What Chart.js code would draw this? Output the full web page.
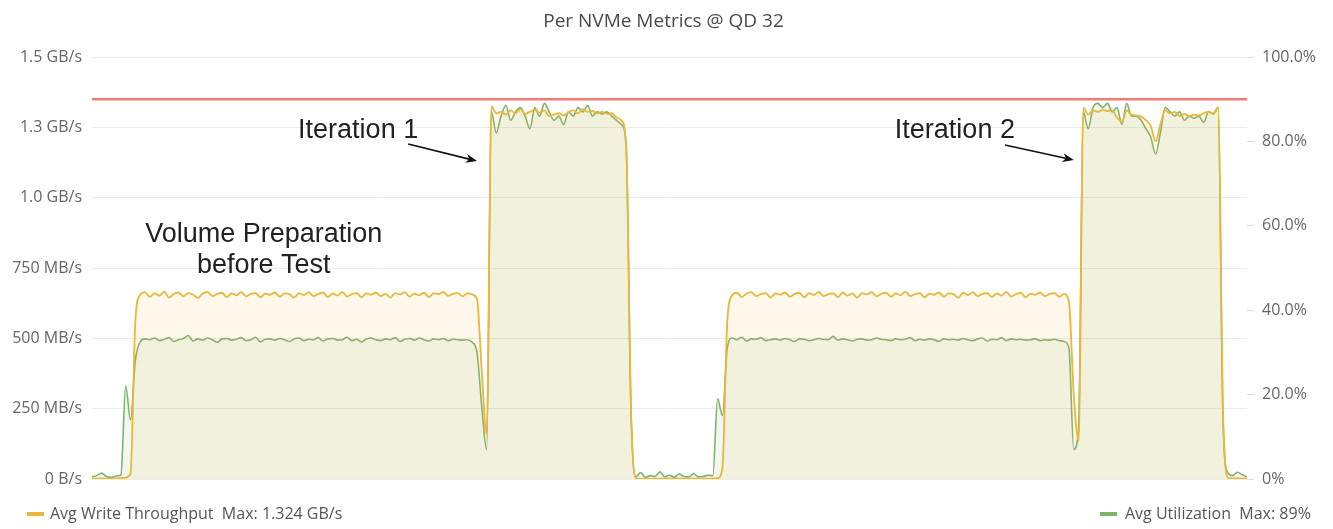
<!DOCTYPE html>
<html>
<head>
<meta charset="utf-8">
<title>Per NVMe Metrics @ QD 32</title>
<script src="https://cdn.jsdelivr.net/npm/chart.js@4.4.1/dist/chart.umd.min.js"></script>
<style>
  html, body { margin: 0; padding: 0; background: #fff; }
  #wrap { width: 1333px; height: 529px; }
</style>
</head>
<body>
<div id="wrap"><canvas id="nvmeChart" width="1333" height="529"></canvas></div>
<script>
// avg write throughput per sample, MB/s
const writeThroughput = [
  2, 1, 2, 1, 1, 2, 3, 5, 20, 560,
  // volume preparation #1
  655, 664, 648, 660, 652, 666, 645, 658, 663, 649,
  661, 655, 644, 659, 665, 650, 657, 662, 647, 660,
  653, 664, 649, 658, 661, 646, 659, 655, 663, 648,
  660, 657, 645, 661, 654, 664, 650, 658, 662, 647,
  659, 652, 665, 649, 657, 661, 646, 660, 655, 663,
  650, 658, 645, 661, 656, 664, 648, 659, 653, 662,
  647, 660, 657, 665, 651, 658, 661, 649, 660, 656,
  640, 380, 160, 1324,
  // iteration 1
  1300, 1305, 1295, 1310, 1300, 1315, 1298, 1305, 1312, 1302,
  1310, 1290, 1295, 1300, 1292, 1305, 1310, 1300, 1315, 1305,
  1308, 1300, 1305, 1298, 1300, 1285, 1275,
  1180, 250,
  // idle
  2, 1, 2, 1, 2, 1, 1, 2, 1, 2, 1, 1, 2, 1, 2, 1, 2,
  3, 40, 560,
  // volume preparation #2
  652, 662, 647, 659, 664, 650, 657, 661, 645, 660,
  655, 663, 648, 658, 662, 646, 661, 654, 665, 650,
  657, 660, 647, 663, 652, 659, 645, 661, 656, 664,
  649, 658, 662, 648, 660, 653, 666, 650, 657, 661,
  646, 659, 655, 663, 648, 660, 657, 645, 662, 654,
  664, 650, 658, 661, 647, 660, 652, 665, 649, 657,
  662, 646, 659, 655, 663, 650, 658, 661, 648, 658,
  630, 300, 135,
  // iteration 2
  1320, 1295, 1310, 1305, 1312, 1308, 1310, 1285, 1270, 1310,
  1295, 1292, 1288, 1275, 1255, 1200, 1260, 1310, 1300, 1305,
  1290, 1298, 1290, 1295, 1292, 1300, 1305, 1300, 1322,
  250, 5, 2, 3, 1, 2
];

// avg device utilization per sample, %
const utilization = [
  0.5, 0.8, 1.4, 0.6, 0.4, 0.7, 1.0, 22, 14, 28,
  32.5, 33.2, 33.0, 33.4, 32.8, 33.1, 33.5, 32.6, 33.0, 33.3,
  34.0, 32.7, 33.2, 32.9, 33.4, 33.0, 32.4, 33.2, 33.3, 32.9,
  33.1, 33.5, 32.8, 33.0, 33.6, 32.5, 33.1, 33.2, 32.9, 33.3,
  33.0, 32.6, 33.2, 33.4, 32.8, 33.1, 33.0, 33.5, 32.7, 33.2,
  33.3, 32.9, 33.0, 33.6, 32.8, 33.1, 32.5, 33.2, 33.4, 33.0,
  32.8, 33.2, 33.0, 33.5, 32.6, 33.1, 33.3, 32.9, 33.4, 33.0,
  32.7, 33.2, 33.0, 33.3, 32.8, 33.1, 33.0, 32.9, 33.0, 32.4,
  30, 17, 7, 87,
  82, 86, 88.5, 85, 87, 88, 86, 83, 88, 86,
  89, 87, 85, 86, 84, 87, 86, 88, 87, 88.5,
  86, 87, 86.5, 87, 86, 85, 84,
  79, 16,
  0.5, 1.5, 0.4, 0.8, 0.6, 1.7, 0.5, 0.9, 0.4, 1.2, 0.6, 0.5, 1.3, 0.5, 0.6, 0.9, 0.8,
  19, 15, 31,
  33.4, 33.0, 33.6, 32.7, 33.2, 33.1, 33.5, 32.8, 33.0, 33.2,
  32.9, 33.3, 33.0, 32.6, 33.2, 33.1, 32.8, 33.0, 33.3, 33.1,
  33.0, 33.8, 32.9, 33.2, 33.0, 32.7, 33.1, 33.2, 32.9, 33.0,
  33.4, 33.1, 33.0, 32.8, 33.2, 33.0, 33.1, 33.5, 32.8, 33.1,
  32.9, 33.2, 33.0, 32.6, 33.2, 33.0, 33.1, 32.9, 33.3, 33.0,
  32.8, 33.2, 33.4, 32.7, 33.1, 33.0, 33.5, 32.8, 33.2, 33.0,
  33.1, 32.9, 33.0, 33.2, 32.8, 33.0, 32.9, 33.1, 32.8, 32.6,
  31, 7, 12,
  87, 83, 88, 89, 88, 89, 87, 88, 84, 89,
  86, 86, 85, 83, 81, 77, 82, 88, 87, 86,
  87, 85, 86, 85.5, 86, 84.5, 87, 86.5, 88,
  15, 1.5, 0.8, 1.6, 1.0, 0.5
];

const sampleLabels = writeThroughput.map((_, i) => i);
const utilThreshold = 90;
const throughputStep = 250;
const throughputMax = 1500;
const utilStep = 20;
const utilMax = 100;

// notes placed in data space: [sample, MB/s]
const notes = [
  { text: 'Iteration 1', at: [55.3, 1212] },
  { text: 'Iteration 2', at: [179.3, 1212] },
  { text: 'Volume Preparation', at: [35.7, 844] },
  { text: 'before Test', at: [35.7, 734] }
];
const arrows = [
  { from: [65.7, 1191], to: [80.0, 1130] },
  { from: [189.7, 1187], to: [204.0, 1134] }
];

const YELLOW = '#EAB839';
const GREEN = '#7EB26D';
const FONT = '"Open Sans", Roboto, sans-serif';

function fmtBytes(v) {
  if (v === 0) return '0 B/s';
  if (v >= 1000) return (v / 1000).toFixed(1) + ' GB/s';
  return v + ' MB/s';
}

const decorations = {
  id: 'decorations',
  afterDatasetsDraw(chart) {
    const { ctx, scales: { x, y } } = chart;
    ctx.save();
    ctx.fillStyle = '#222';
    ctx.font = '27px "Liberation Sans", Arial, sans-serif';
    ctx.textAlign = 'center';
    ctx.textBaseline = 'alphabetic';
    notes.forEach(n => ctx.fillText(n.text, x.getPixelForValue(n.at[0]), y.getPixelForValue(n.at[1])));

    ctx.strokeStyle = '#111';
    ctx.fillStyle = '#111';
    ctx.lineWidth = 1.6;
    arrows.forEach(a => {
      const x0 = x.getPixelForValue(a.from[0]), y0 = y.getPixelForValue(a.from[1]);
      const x1 = x.getPixelForValue(a.to[0]), y1 = y.getPixelForValue(a.to[1]);
      const ang = Math.atan2(y1 - y0, x1 - x0);
      ctx.beginPath();
      ctx.moveTo(x0, y0);
      ctx.lineTo(x1 - 6 * Math.cos(ang), y1 - 6 * Math.sin(ang));
      ctx.stroke();
      ctx.beginPath();
      ctx.moveTo(x1, y1);
      ctx.lineTo(x1 - 12 * Math.cos(ang - 0.38), y1 - 12 * Math.sin(ang - 0.38));
      ctx.lineTo(x1 - 8 * Math.cos(ang), y1 - 8 * Math.sin(ang));
      ctx.lineTo(x1 - 12 * Math.cos(ang + 0.38), y1 - 12 * Math.sin(ang + 0.38));
      ctx.closePath();
      ctx.fill();
    });
    ctx.restore();
  },
  afterDraw(chart) {
    const { ctx, width } = chart;
    ctx.save();
    ctx.fillStyle = '#4a4a4a';
    ctx.font = '19px ' + FONT;
    ctx.textAlign = 'center';
    ctx.textBaseline = 'middle';
    ctx.fillText('Per NVMe Metrics @ QD 32', width / 2 - 3, 22);

    // series legend with max values
    const maxTp = (Math.max(...writeThroughput) / 1000).toFixed(3) + ' GB/s';
    const maxUt = Math.max(...utilization) + '%';
    ctx.font = '16px ' + FONT;
    ctx.textAlign = 'left';
    ctx.fillStyle = YELLOW;
    ctx.fillRect(27, 512, 17, 4);
    ctx.fillStyle = '#555';
    ctx.fillText('Avg Write Throughput  Max: ' + maxTp, 50, 514);
    ctx.fillStyle = GREEN;
    ctx.fillRect(1100, 512, 17, 4);
    ctx.fillStyle = '#555';
    ctx.fillText('Avg Utilization  Max: ' + maxUt, 1125, 514);
    ctx.restore();
  }
};

new Chart(document.getElementById('nvmeChart'), {
  type: 'line',
  data: {
    labels: sampleLabels,
    datasets: [
      {
        label: 'Avg Write Throughput',
        data: writeThroughput,
        yAxisID: 'y',
        borderColor: YELLOW,
        backgroundColor: 'rgba(234,184,57,0.10)',
        borderWidth: 1.8,
        fill: 'origin',
        pointRadius: 0,
        cubicInterpolationMode: 'monotone'
      },
      {
        label: 'Avg Utilization',
        data: utilization,
        yAxisID: 'y1',
        borderColor: GREEN,
        backgroundColor: 'rgba(126,178,109,0.10)',
        borderWidth: 1.6,
        fill: 'origin',
        pointRadius: 0,
        cubicInterpolationMode: 'monotone'
      },
      {
        label: 'Threshold',
        data: sampleLabels.map(() => utilThreshold),
        yAxisID: 'y1',
        borderColor: 'rgba(242,88,80,0.8)',
        borderWidth: 2.5,
        fill: false,
        pointRadius: 0
      }
    ]
  },
  options: {
    responsive: false,
    animation: false,
    devicePixelRatio: 1,
    layout: { padding: { top: 57, bottom: 50, left: 0, right: 0 } },
    plugins: { legend: { display: false }, tooltip: { enabled: false } },
    scales: {
      x: { display: false, offset: false },
      y: {
        position: 'left',
        min: 0,
        max: throughputMax,
        ticks: { stepSize: throughputStep, callback: fmtBytes, color: '#666', font: { family: FONT, size: 16 }, padding: 10 },
        grid: { color: '#ececec', drawTicks: false },
        border: { display: false },
        afterFit(s) { s.width = 92; }
      },
      y1: {
        position: 'right',
        min: 0,
        max: utilMax,
        ticks: {
          stepSize: utilStep,
          callback: v => v === 0 ? '0%' : v.toFixed(1) + '%',
          color: '#666',
          font: { family: FONT, size: 16 },
          padding: 8
        },
        grid: { drawOnChartArea: false, tickLength: 7, color: '#dcdcdc' },
        border: { display: false },
        afterFit(s) { s.width = 86; }
      }
    }
  },
  plugins: [decorations]
});
</script>
</body>
</html>
